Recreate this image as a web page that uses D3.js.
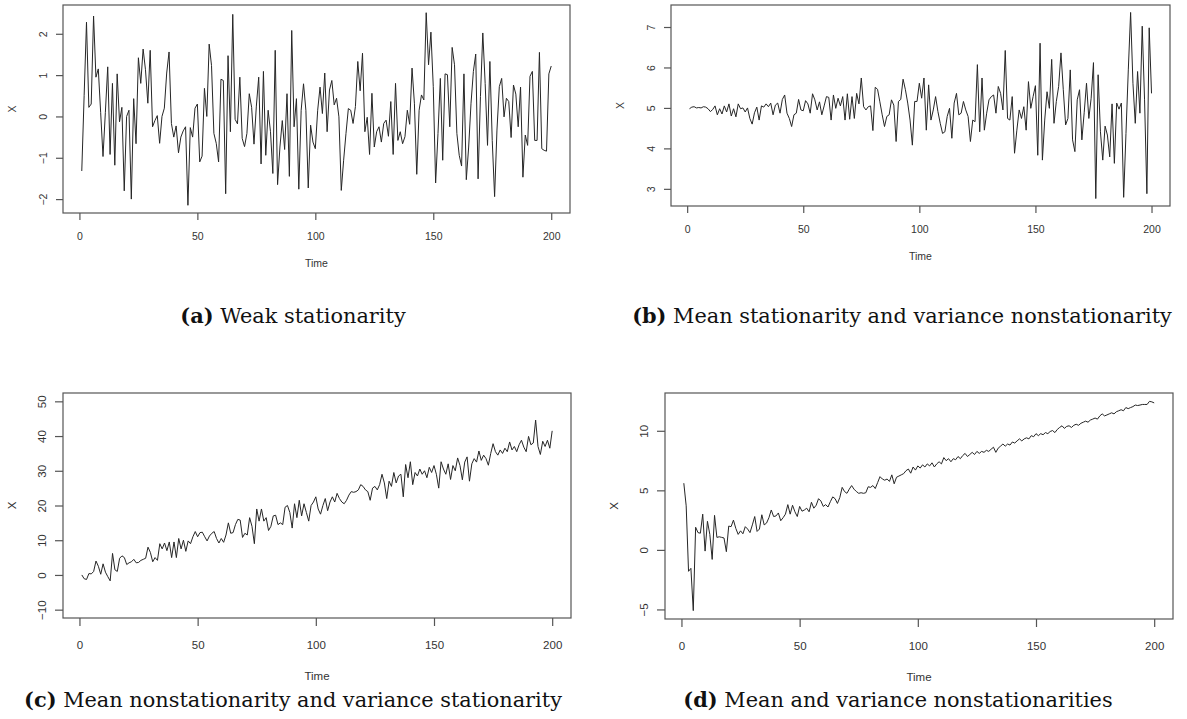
<!DOCTYPE html>
<html>
<head>
<meta charset="utf-8">
<script src="https://cdn.jsdelivr.net/npm/d3@7"></script>
<style>
  body { margin: 0; background: #fff; }
  text { font-family: "Liberation Sans", Arial, sans-serif; }
</style>
</head>
<body>
<svg id="fig" width="1187" height="719"></svg>
<script>
// series, t = 1..200
const weakStat = [
  -1.32, 0.5, 2.28, 0.22, 0.3, 2.43, 0.95, 1.15, 0.1, -0.97,
  0.1, 1.2, -0.92, 0.8, -1.18, 1.03, -0.13, 0.22, -1.8, 0,
  0.15, -2.0,
  0.43, -0.66, 1.42, 0.8, 1.63, 1.13, 0.32, 1.6, -0.25, -0.1,
  0.02, -0.65, 0, 0.2, 1.05, 1.56, -0.17, -0.5, -0.23, -0.88,
  -0.5, -0.35, -0.25, -2.15, -0.27, -0.5, 0.2, 0.3, -1.1, -0.96,
  0.68, 0, 1.75, 1.23, -0.41, -0.65, -1.1, 0.9, 0.87, -1.87,
  1.47, -0.37, 2.47, -0.07, -0.18, 0.95, -0.53, -0.73, -0.41, 0.55,
  0.22, -0.67, 0.25, 0.95, -1.15, 1.09, -0.94, 0.15, -0.37, -1.38,
  1.6, -1.65, -0.74, -0.1, -0.8, 0.55, -1.45,
  2.08, -0.25, 0.43, -1.76,
  0.15, 0.79, 0.15, -1.73, -0.21, -0.62, -0.78, 0.15, 0.71, 0.07,
  1.05, -0.37, 0.64, 0.87, 0.28, 0.44, -0.01, -1.79, -1.06, -0.41,
  0.19, 0.15, -0.17, 0.24, 1.33, 0.62, 1.53, -0.37, -0.02, -0.92,
  0.56, -0.74, -0.37, -0.25, -0.62, -0.17, -0.09, -0.48, 0.36, -0.92,
  0.80, -0.58, -0.37, -0.66, -0.49, 0.15, -0.19, 1.17, 0.32, -1.40,
  0.15, 0.52, 0.40, 2.51, 1.25, 2.04, 0.72, -1.61, -0.41, 0.92,
  -1.06, 1.03, 1.01, -0.25, 1.67, 1.25, -0.41, -0.94, -1.20, 1.03,
  -1.53, -0.74, 0.32, 1.09, 1.51, -1.51, 0.48, 2.02, 0.80, -0.70,
  1.33, -0.58, -1.94, -0.33, 0.72, 0.92, -0.01, 0.44, 0.36, -0.51,
  0.76, 0.54, -0.25, 0.71, -1.47, -0.45, -0.70, 0.97, 1.09, -0.58,
  -0.58, 1.55, -0.78, -0.82, -0.84, 1.03, 1.22
];

const meanStatVarNon = [
  4.98, 5.02, 5.03, 5.0, 5.01, 5.0, 5.03, 5.02, 4.98, 4.91,
  4.96, 5.05, 4.83, 4.98, 4.85, 5.05, 4.9, 5.1, 4.8, 4.98,
  4.78, 5.1, 4.98, 5.0, 4.9, 5.0, 4.74, 4.6, 4.88, 5.02,
  4.7, 5.05, 5.02, 5.1, 5.03, 5.12, 4.83, 5.07, 5.12, 4.87,
  5.21, 5.32, 4.87, 4.74, 4.54, 4.83, 4.87, 5.21, 4.95, 4.93,
  5.18, 5.1, 4.87, 5.35, 5.2, 4.95, 5.15, 4.83, 5.05, 5.28,
  5.26, 4.7, 5.32, 4.99, 5.24, 5.05, 5.28, 4.7, 5.35, 4.72,
  5.28, 4.74, 5.36, 5.1, 5.74, 5.03, 4.95, 5.03, 5.05, 4.44,
  5.51, 5.46, 5.15, 4.83,
  4.54, 4.79, 4.83, 5.2, 5.07, 4.17, 5.16, 5.21, 5.71, 5.45,
  5.12, 4.7, 4.08, 5.16, 5.16, 5.61, 5.24, 5.74, 4.45, 5.57,
  4.7, 4.95, 5.28, 4.91, 4.62, 4.37, 4.41, 4.79, 4.99, 4.25,
  5.12, 5.36, 4.83, 4.87, 5.16, 4.95, 4.79, 4.17, 4.7, 4.66,
  6.07, 4.41, 5.74, 4.45, 4.87, 5.2, 5.28, 5.32, 4.87, 5.53,
  5.36, 4.95, 6.42, 4.74, 4.7, 5.28, 3.88, 4.45, 4.95, 4.74,
  5.03, 4.45, 5.65, 4.99, 5.28, 5.55, 3.83, 6.6, 3.71, 4.7,
  5.4, 4.99, 6.2, 4.62, 5.16, 5.53, 6.36, 5.45, 4.58, 4.74,
  5.94, 4.21, 3.92, 5.2, 5.45, 4.21, 4.88, 5.61, 4.74, 5.24,
  6.12, 2.76, 5.82, 4.41, 3.71, 4.55, 4.33, 3.79, 5.1, 3.63,
  5.12, 4.97, 5.12, 2.79, 4.37, 5.94, 7.36, 5.61, 4.62, 5.9,
  4.87, 7.02, 5.2, 2.88, 6.98, 5.36
];

const meanNonVarStat = [
  0, -1.1, -1.3, 0.4, 0.3, 1.0, 4.0, 2.5, 0.2, 3.2,
  0.8, -0.5, -1.7, 6.2, 1.5, 1.0, 4.8, 5.5, 5.0, 3.0,
  3.5, 3.8, 4.5, 3.5, 3.6, 4.2, 4.5, 4.8, 8.0, 6.5,
  3.8, 5.0, 4.2, 9.0, 7.5, 9.2, 7.0, 9.5, 5.0, 9.5,
  5.0, 10.5, 7.5, 10.0, 6.8, 9.8, 9.0, 11.0, 12.5, 11.0,
  12.2, 12.3, 11.0, 9.8, 11.2, 12.0, 12.5,
  10.5, 9.2, 10.5, 9.4, 11.5, 15.0, 12.0, 12.2, 14.5, 16.0,
  15.8, 10.8, 12.0, 11.5, 16.5, 14.0, 9.0, 19.0, 15.5, 19.0,
  15.5, 16.5, 12.8, 14.0, 17.0, 17.2, 14.5, 15.0, 14.5, 19.5,
  20.0, 18.0, 13.5, 20.5, 16.5, 21.5, 17.0, 20.5, 18.0, 15.5,
  20.0, 21.0, 22.5,
  19.0, 17.5, 20.0, 22.0, 18.5, 21.0, 22.5, 21.0, 23.5, 22.0,
  21.0, 20.5, 21.5, 23.0, 24.0, 23.8, 24.0, 24.5, 26.0, 25.5,
  24.5, 24.0, 21.5, 25.0, 25.5, 24.5, 26.0, 29.0,
  26.5, 22.0, 27.0, 25.5, 29.5, 26.5, 28.5, 29.0, 22.5, 31.8,
  28.0, 32.6, 26.0, 29.5, 28.5, 30.5, 29.0, 30.0, 28.0, 31.0,
  29.5, 31.5, 29.0, 25.0, 32.6, 30.5, 29.0, 32.0, 27.5, 31.5,
  30.0, 33.7, 31.5, 27.4, 32.5, 34.0, 27.0, 32.0, 33.5, 32.5,
  35.7, 33.0, 34.5, 33.5, 31.6, 35.0, 37.8, 35.5, 34.5, 36.0,
  35.0, 36.5, 35.5, 38.3, 36.0, 37.0, 35.5, 37.5, 38.8, 36.8,
  35.5, 39.9, 37.5, 38.0, 44.6, 37.0, 34.7, 38.5, 37.0, 38.8,
  36.5, 41.5
];

const meanVarNon = [
  5.6, 3.7, -1.8, -1.55, -5.1, 1.9, 1.45, 1.4, 3.0, -0.1,
  2.4, 1.3, -0.8, 2.9, 1.05, 1.1, 1.05, 1.0, -0.15, 2.0,
  1.95, 2.5, 1.8, 1.3, 1.6, 1.35, 1.95, 1.75, 1.45, 2.1,
  2.8, 1.55, 1.75, 2.95, 2.1, 2.25, 2.7, 3.35, 2.8, 2.85,
  3.1, 2.45, 2.7, 3.0, 3.8, 3.0, 3.75, 3.2, 2.8, 3.65,
  3.25, 3.35, 3.5, 3.2, 4.0, 3.5, 3.75, 4.3, 4.1, 3.65,
  3.8, 3.6, 4.05, 4.45, 4.3, 3.9, 4.4, 5.25, 4.9, 4.75,
  5.1, 5.4, 5.1, 4.9, 4.75, 4.8, 4.75, 4.8, 5.3, 5.25,
  5.4, 5.15, 5.65, 6.15, 5.95, 5.85, 5.95, 5.75, 6.3, 5.55,
  6.1, 6.2, 6.3, 6.4, 6.65,
  6.79, 6.44, 6.96, 6.70, 7.05, 6.87, 7.14, 6.96, 7.22, 7.05,
  7.31, 6.96, 7.22, 7.40, 7.22, 7.75, 7.49, 7.66, 7.40, 7.66,
  7.57, 7.84, 7.66, 7.92, 8.10, 7.84, 8.01, 8.19, 8.01, 8.27,
  8.10, 8.27, 8.19, 8.36, 8.27, 8.45, 8.62, 8.19, 8.54, 8.71,
  8.89, 8.71, 8.89, 8.80, 9.06, 8.97, 9.15, 9.32, 9.15, 9.32,
  9.41, 9.32, 9.59, 9.50, 9.76, 9.59, 9.76, 9.67, 9.85, 9.76,
  9.94, 10.02, 9.85, 10.11, 10.28, 10.42, 10.20, 10.37, 10.42, 10.28,
  10.46, 10.55, 10.46, 10.63, 10.72, 10.81, 10.72, 10.90, 10.98, 11.07,
  10.98, 11.25, 11.42, 11.25, 11.33, 11.42, 11.51, 11.42, 11.60, 11.68,
  11.77, 11.68, 11.95, 11.86, 11.95, 12.03, 12.16, 12.12, 12.16, 12.21,
  12.21, 12.21, 12.47, 12.43, 12.34
];

const timeTicks = [0, 50, 100, 150, 200];
const ticksA = [-2, -1, 0, 1, 2];
const ticksB = [3, 4, 5, 6, 7];
const ticksC = [-10, 0, 10, 20, 30, 40, 50];
const ticksD = [-5, 0, 5, 10];
const limC = [-10, 50];

const captionTags = ["(a)", "(b)", "(c)", "(d)"];
const captionTexts = [
  "Weak stationarity",
  "Mean stationarity and variance nonstationarity",
  "Mean nonstationarity and variance stationarity",
  "Mean and variance nonstationarities"
];

const svg = d3.select("#fig");
svg.append("rect").attr("width", 1187).attr("height", 719).attr("fill", "#fff");

// R style range: data extent plus 4% each side
function rpad(lo, hi) {
  const r = hi - lo;
  return [lo - 0.04 * r, hi + 0.04 * r];
}

function draw_panel(data, yTicks, box, st, ylim) {
  const g = svg.append("g");
  const x = d3.scaleLinear().domain(rpad(1, data.length)).range([box.l, box.r]);
  const ext = ylim || d3.extent(data);
  const y = d3.scaleLinear().domain(rpad(ext[0], ext[1])).range([box.b, box.t]);

  const line = d3.line().x((d, i) => x(i + 1)).y(d => y(d));
  g.append("path")
    .datum(data)
    .attr("fill", "none")
    .attr("stroke", "#262626")
    .attr("stroke-width", 1)
    .attr("stroke-linejoin", "round")
    .attr("d", line);

  g.append("rect")
    .attr("x", box.l).attr("y", box.t)
    .attr("width", box.r - box.l).attr("height", box.b - box.t)
    .attr("fill", "none").attr("stroke", "#555").attr("stroke-width", 1.2);

  // x axis
  const xa = g.append("g")
    .attr("transform", `translate(0,${box.b})`)
    .call(d3.axisBottom(x).tickValues(timeTicks).tickSize(st.tick)
      .tickPadding(st.lab - st.tick - 0.35 * st.fs).tickFormat(d3.format("d")));
  xa.select(".domain").remove();
  xa.selectAll("line").attr("stroke", "#555").attr("stroke-width", 1.2);
  xa.selectAll("text").attr("font-size", st.fs).attr("fill", "#333")
    .attr("font-family", "Liberation Sans, Arial, sans-serif");

  // y axis, labels turned like R's las=0
  const ya = g.append("g")
    .attr("transform", `translate(${box.l},0)`)
    .call(d3.axisLeft(y).tickValues(yTicks).tickSize(st.tick).tickFormat(d3.format("d")));
  ya.select(".domain").remove();
  ya.selectAll("line").attr("stroke", "#555").attr("stroke-width", 1.2);
  ya.selectAll("text")
    .attr("font-size", st.fs).attr("fill", "#333")
    .attr("font-family", "Liberation Sans, Arial, sans-serif")
    .attr("text-anchor", "middle")
    .attr("transform", "rotate(-90)")
    .attr("x", 0).attr("y", -st.ylab).attr("dy", "0.35em");

  g.append("text")
    .attr("x", (box.l + box.r) / 2).attr("y", box.b + st.time)
    .attr("text-anchor", "middle").attr("dy", "0.35em")
    .attr("font-size", st.fs).attr("fill", "#333")
    .text("Time");

  g.append("text")
    .attr("transform", `translate(${box.l - 51},${(box.t + box.b) / 2}) rotate(-90)`)
    .attr("text-anchor", "middle").attr("dy", "0.35em")
    .attr("font-size", st.fs).attr("fill", "#333")
    .text("X");
}

const topStyle = {tick: 7, lab: 23, time: 50, ylab: 20, fs: 10.5};
const lowStyle = {tick: 8, lab: 27, time: 58, ylab: 21, fs: 11.5};

draw_panel(weakStat, ticksA, {l: 63, r: 570, t: 5, b: 213}, topStyle);
draw_panel(meanStatVarNon, ticksB, {l: 671, r: 1170, t: 5, b: 206}, topStyle);
draw_panel(meanNonVarStat, ticksC, {l: 63, r: 571, t: 393, b: 618}, lowStyle, limC);
draw_panel(meanVarNon, ticksD, {l: 665, r: 1173, t: 393, b: 619}, lowStyle);

// sub captions, LaTeX style
const capPos = [[293, 323], [902, 323], [293, 707], [898, 707]];
const caps = svg.selectAll("text.cap")
  .data(captionTags)
  .join("text")
  .attr("class", "cap")
  .attr("x", (d, i) => capPos[i][0]).attr("y", (d, i) => capPos[i][1])
  .attr("text-anchor", "middle")
  .attr("font-size", 18)
  .attr("fill", "#111")
  .style("font-family", "'DejaVu Serif', serif");
caps.append("tspan").attr("font-weight", "bold").text(d => d);
caps.append("tspan").text((d, i) => "\u00a0" + captionTexts[i]);

// size the captions so the long one spans about 540px
const longW = caps.filter((d, i) => i === 1).node().getComputedTextLength();
caps.attr("font-size", 18 * 540 / longW);
</script>
</body>
</html>
